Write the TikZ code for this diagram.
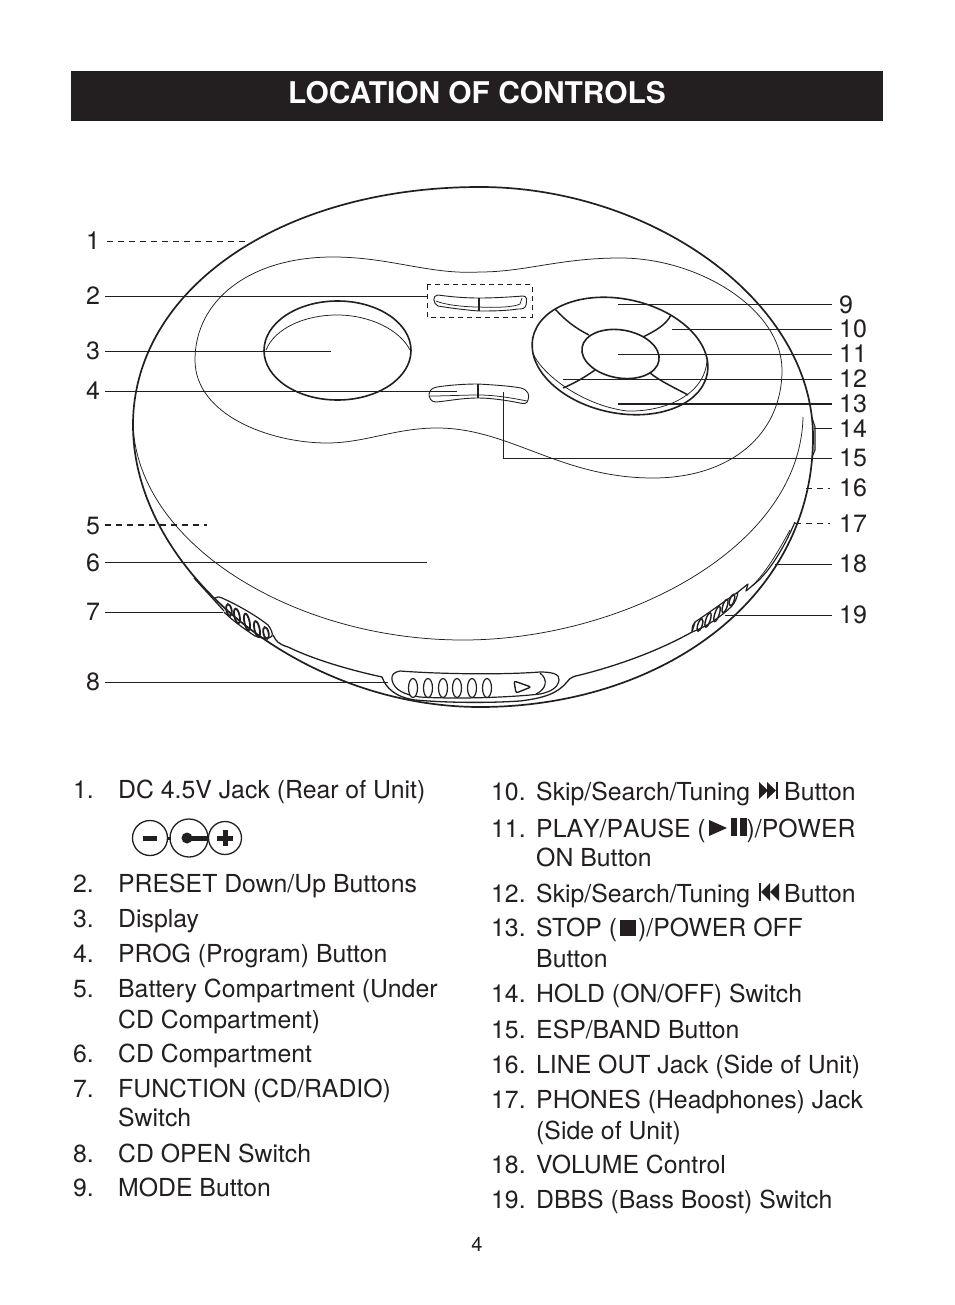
\documentclass[tikz,border=0pt]{standalone}
\usepackage{fontspec}
\setmainfont{TeX Gyre Heros}
\definecolor{ink}{HTML}{231F20}
\tikzset{
  thinln/.style={draw=ink,line width=0.75pt},
  bodyln/.style={draw=ink,line width=1.7pt,line join=round},
  medln/.style={draw=ink,line width=1.2pt,line join=round},
  leader/.style={draw=ink,line width=0.85pt},
  dashleader/.style={draw=ink,line width=0.85pt,dash pattern=on 6pt off 5pt},
  num/.style={anchor=base west,font=\fontsize{25}{25}\selectfont,text=ink,inner sep=0pt},
  li/.style={anchor=base west,font=\fontsize{24.8}{24.8}\selectfont,text=ink,inner sep=0pt},
  glyph/.style={fill=ink,draw=none},
}
\begin{document}
\begin{tikzpicture}[x=1pt,y=-1pt]
\useasboundingbox (0,0) rectangle (954,1305);
\fill[white] (0,0) rectangle (954,1305);
\fill[ink] (71,71) rectangle (883,121);
\node[text=white,font=\fontsize{29.9}{30}\bfseries\selectfont,inner sep=0pt,anchor=base] (title) at (477,104) {LOCATION OF CONTROLS};

% body silhouette
\draw[bodyln] (133,425) .. controls (133,290) and (280,187) .. (480,187)
  .. controls (650,187) and (813,300) .. (813,437)
  .. controls (813,600) and (660,707) .. (480,707)
  .. controls (300,707) and (133,570) .. (133,425) -- cycle;
% lid edge
\draw[thinln] (133,420) .. controls (133,540) and (290,640) .. (463,640)
  .. controls (620,640) and (800,550) .. (803,417);
% blob
\draw[thinln] (480,272) .. controls (430,275) and (390,257) .. (333,257)
  .. controls (250,257) and (195,300) .. (195,360)
  .. controls (195,415) and (270,443) .. (327,443)
  .. controls (365,443) and (395,428) .. (437,428)
  .. controls (510,428) and (560,478) .. (653,478)
  .. controls (730,478) and (782,435) .. (782,370)
  .. controls (782,310) and (700,258) .. (620,258)
  .. controls (560,258) and (525,272) .. (480,272) -- cycle;
% display
\draw[draw=ink,line width=1.6pt] (337.5,350.5) ellipse [x radius=73.5,y radius=49.5];
\draw[thinln] (266,350) .. controls (275,328) and (305,315) .. (337,315) .. controls (370,315) and (400,330) .. (410,350);
% preset
\draw[draw=ink,line width=0.9pt,line join=round] (438,295) .. controls (452,297) and (466,298) .. (479,298) .. controls (495,298) and (510,297) .. (523,296) .. controls (527,296) and (527,300) .. (526,305) .. controls (525,309) and (522,309) .. (518,309) .. controls (505,311) and (490,311) .. (479,311) .. controls (465,310) and (450,308) .. (438,306) .. controls (433,304) and (432,295) .. (438,295) -- cycle;
\draw[thinln] (436,301) .. controls (445,305) and (465,307) .. (479,307) .. controls (495,308) and (515,307) .. (520,304) -- (522,298);
\draw[draw=ink,line width=2pt] (479,298) -- (479,311);
\draw[draw=ink,line width=1pt,dash pattern=on 5pt off 4pt] (427,285) rectangle (532,317);
% prog
\draw[draw=ink,line width=0.9pt,line join=round] (437,387) .. controls (450,385) and (465,384) .. (478,384) .. controls (495,385) and (510,386) .. (521,388) .. controls (528,390) and (530,395) .. (528,400) .. controls (527,404) and (524,404) .. (520,403) .. controls (505,400) and (490,398) .. (478,398) .. controls (462,398) and (448,401) .. (436,402) .. controls (431,402) and (429,398) .. (429,394) .. controls (430,389) and (433,388) .. (437,387) -- cycle;
\draw[thinln] (430,396) .. controls (445,396) and (465,395) .. (478,395) .. controls (495,395) and (512,398) .. (527,401);
\draw[draw=ink,line width=2pt] (478,384) -- (478,398);
% pad
\draw[draw=ink,line width=1.6pt,rotate around={-12:(620,356)}] (620,356) ellipse [x radius=89,y radius=57];
\draw[draw=ink,line width=1.6pt,rotate around={-10:(620.5,354)}] (620.5,354) ellipse [x radius=39,y radius=24];
\draw[thinln] (533,353) .. controls (540,372) and (580,405) .. (627,411) .. controls (665,412) and (705,395) .. (707,360);
\draw[medln,line width=1.5pt] (555,309) .. controls (565,320) and (575,328) .. (589,335);
\draw[medln,line width=1.5pt] (671,315) .. controls (666,325) and (655,331) .. (643,337);
\draw[medln,line width=1.5pt] (563,388) .. controls (575,383) and (585,377) .. (595,370);
\draw[medln,line width=1.5pt] (688,395) .. controls (675,388) and (660,381) .. (650,373);
% front rim, left part and right part
\draw[medln,line width=1.3pt] (273,635) .. controls (276,641) and (278,644) .. (288,647) .. controls (315,660) and (350,670) .. (382,677) .. controls (386,688) and (395,697) .. (415,700) .. controls (450,703) and (490,703) .. (520,701) .. controls (545,698) and (558,693) .. (567,682) .. controls (570,677) and (575,676) .. (580,675) .. controls (620,665) and (660,650) .. (692,632) -- (695,622);
\draw[medln,line width=1.2pt] (738,592) -- (748,584) -- (746,591) -- (752,586) .. controls (768,574) and (783,550) .. (795,522);
\draw[thinln] (752,586) .. controls (762,576) and (772,563) .. (790,530);
\draw[medln] (194,578) -- (224,611);
% slider
\draw[medln] (392,680) .. controls (391,674) and (395,672) .. (400,671) .. controls (440,674) and (500,675) .. (540,672) .. controls (552,672) and (560,674) .. (559,680) .. controls (558,688) and (550,692) .. (540,694) .. controls (505,698) and (450,699) .. (420,697) .. controls (405,695) and (394,690) .. (392,680) -- cycle;
\draw[medln] (540,673) .. controls (548,679) and (547,689) .. (536,694);
\foreach \n/\ox in {a/413,b/428,c/443,d/457,e/472,f/487}{\draw[draw=ink,line width=1.2pt,fill=white] (\ox,688) ellipse [x radius=4.5,y radius=9.5];}
\draw[medln,line width=1.4pt,rounded corners=2pt] (514,681) -- (531,687) -- (516,693) -- cycle;
% left switch
\draw[medln] (215,598) .. controls (217,596) and (220,597) .. (222,598) .. controls (240,606) and (258,617) .. (268,625) .. controls (271,629) and (273,633) .. (272,636) .. controls (270,639) and (264,639) .. (255,636) .. controls (243,628) and (232,620) .. (224,612);
\foreach \ex/\ey/\ry in {229/610/6,237/616/7.5,247/622/8.5,257/629/8,266/633/6}{\draw[draw=ink,line width=1.8pt,rotate around={12:(\ex,\ey)}] (\ex,\ey) ellipse [x radius=2.6,y radius=\ry];}
% right switch
\draw[medln] (692,631) .. controls (692,627) and (693,624) .. (695,622) .. controls (710,612) and (725,601) .. (738,592) .. controls (737,598) and (735,603) .. (731,607) .. controls (720,617) and (708,626) .. (692,632);
\foreach \ex/\ey/\ry in {700/625/6.5,708/620/7.5,717/614/8,725/606/7,732/600/6}{\draw[draw=ink,line width=1.4pt,rotate around={-18:(\ex,\ey)}] (\ex,\ey) ellipse [x radius=2.2,y radius=\ry];}
% side switch 14
\draw[draw=ink,line width=1.1pt] (812,418) -- (815,427) -- (815,450) -- (812,457);

% leaders
\coordinate (c1) at (248,241); \draw[dashleader] (107,241) -- (c1);
\coordinate (c2) at (427,296); \draw[leader] (105,296) -- (c2);
\coordinate (c3) at (331,351); \draw[leader] (105,351) -- (c3);
\coordinate (c4) at (457,391); \draw[leader] (105,391) -- (c4);
\coordinate (c5) at (207,525); \draw[dashleader,line width=1.1pt] (105,525) -- (c5);
\coordinate (c6) at (427,562); \draw[leader] (105,562) -- (c6);
\coordinate (c7) at (223,612); \draw[leader] (105,612) -- (c7);
\coordinate (c8) at (388,682); \draw[leader] (105,682) -- (c8);
\draw[leader] (618,304) -- (832,304);
\draw[leader] (672,329) -- (832,329);
\draw[leader] (618,354) -- (832,354);
\draw[leader] (563,379) -- (832,379);
\draw[leader,line width=1.4pt] (618,404) -- (832,404);
\draw[leader] (814,428) -- (832,428);
\draw[leader,line width=1pt] (503,392) -- (503,458) -- (832,458);
\draw[dashleader] (806,488) -- (830,488);
\draw[dashleader] (795,523) -- (830,523);
\draw[leader] (775,564) -- (832,564);
\draw[leader] (725,615) -- (832,615);

% callout numbers
\foreach \n/\by in {1/250,2/305,3/359,4/399,5/534,6/571,7/620,8/690}{\node[num] (l\n) at (86,\by) {\n};}
\foreach \n/\by in {9/313,10/337,11/362,12/387,13/412,14/437,15/466,16/496,17/532,18/572,19/623}{\node[num] (r\n) at (839,\by) {\n};}

% list left
\foreach \n/\by/\t in {1/798/DC 4.5V Jack (Rear of Unit),2/892/PRESET Down{/}Up Buttons,3/927/Display,4/962/PROG (Program) Button,5/997/Battery Compartment (Under,6/1062/CD Compartment,7/1097/FUNCTION (CD{/}RADIO),8/1162/CD OPEN Switch,9/1196/MODE Button}{
  \node[li] (ln\n) at (73,\by) {\n.};
  \node[li] (lt\n) at (118,\by) {\t};
}
\node[li] (lt5b) at (118,1028) {CD Compartment)};
\node[li] (lt7b) at (118,1126) {Switch};
% power icon
\draw[draw=ink,line width=1.3pt] (150,838) circle (17.5);
\draw[draw=ink,line width=1.3pt] (189,838) circle (19);
\draw[draw=ink,line width=1.3pt] (225,838) circle (16.5);
\fill[ink] (143,835.5) rectangle (157,840.5);
\fill[ink] (167,836.5) rectangle (171,839.5);
\fill[ink] (187,838) circle (5.5);
\fill[ink] (187,835.5) rectangle (209,840.5);
\fill[ink] (217,835.5) rectangle (233,840.5);
\fill[ink] (222.5,830) rectangle (227.5,846);

% list right
\node[li] (rn10) at (491,800) {10.};
\node[li] (rt10) at (536,800) {Skip/Search/Tuning\hspace{34pt}Button};
\fill[glyph] (759,782) -- (768,790.5) -- (759,799) -- cycle;
\fill[glyph] (767,782) -- (776,790.5) -- (767,799) -- cycle;
\fill[glyph] (776,782) rectangle (778,799);
\node[li] (rn11) at (491,837) {11.};
\node[li] (rt11) at (536,837) {\addfontfeature{Kerning=Off}PLAY/PAUSE (\hspace{41pt})/POWER};
\fill[glyph] (709,820) -- (727,828) -- (709,836) -- cycle;
\fill[glyph] (731,818) rectangle (737,836);
\fill[glyph] (740,818) rectangle (747,836);
\node[li] (rt11b) at (536,866) {ON Button};
\node[li] (rn12) at (491,902) {12.};
\node[li] (rt12) at (536,902) {Skip/Search/Tuning\hspace{34pt}Button};
\fill[glyph] (759,883) rectangle (761,901);
\fill[glyph] (770,883) -- (761,892) -- (770,901) -- cycle;
\fill[glyph] (779,883) -- (770,892) -- (779,901) -- cycle;
\node[li] (rn13) at (491,936) {13.};
\node[li] (rt13) at (536,936) {STOP (\hspace{21pt})/POWER OFF};
\fill[glyph] (620,920) rectangle (636,936);
\node[li] (rt13b) at (536,967) {Button};
\foreach \n/\by/\t in {14/1002/HOLD (ON{/}OFF) Switch,15/1038/ESP{/}BAND Button,16/1073/LINE OUT Jack (Side of Unit),17/1108/PHONES (Headphones) Jack,18/1173/VOLUME Control,19/1208/DBBS (Bass Boost) Switch}{
  \node[li] (rn\n) at (491,\by) {\n.};
  \node[li] (rt\n) at (536,\by) {\t};
}
\node[li] (rt17b) at (536,1139) {(Side of Unit)};
\node[anchor=base,text=ink,font=\fontsize{20}{20}\selectfont,inner sep=0pt] (page) at (477,1251) {4};
\end{tikzpicture}
\end{document}
